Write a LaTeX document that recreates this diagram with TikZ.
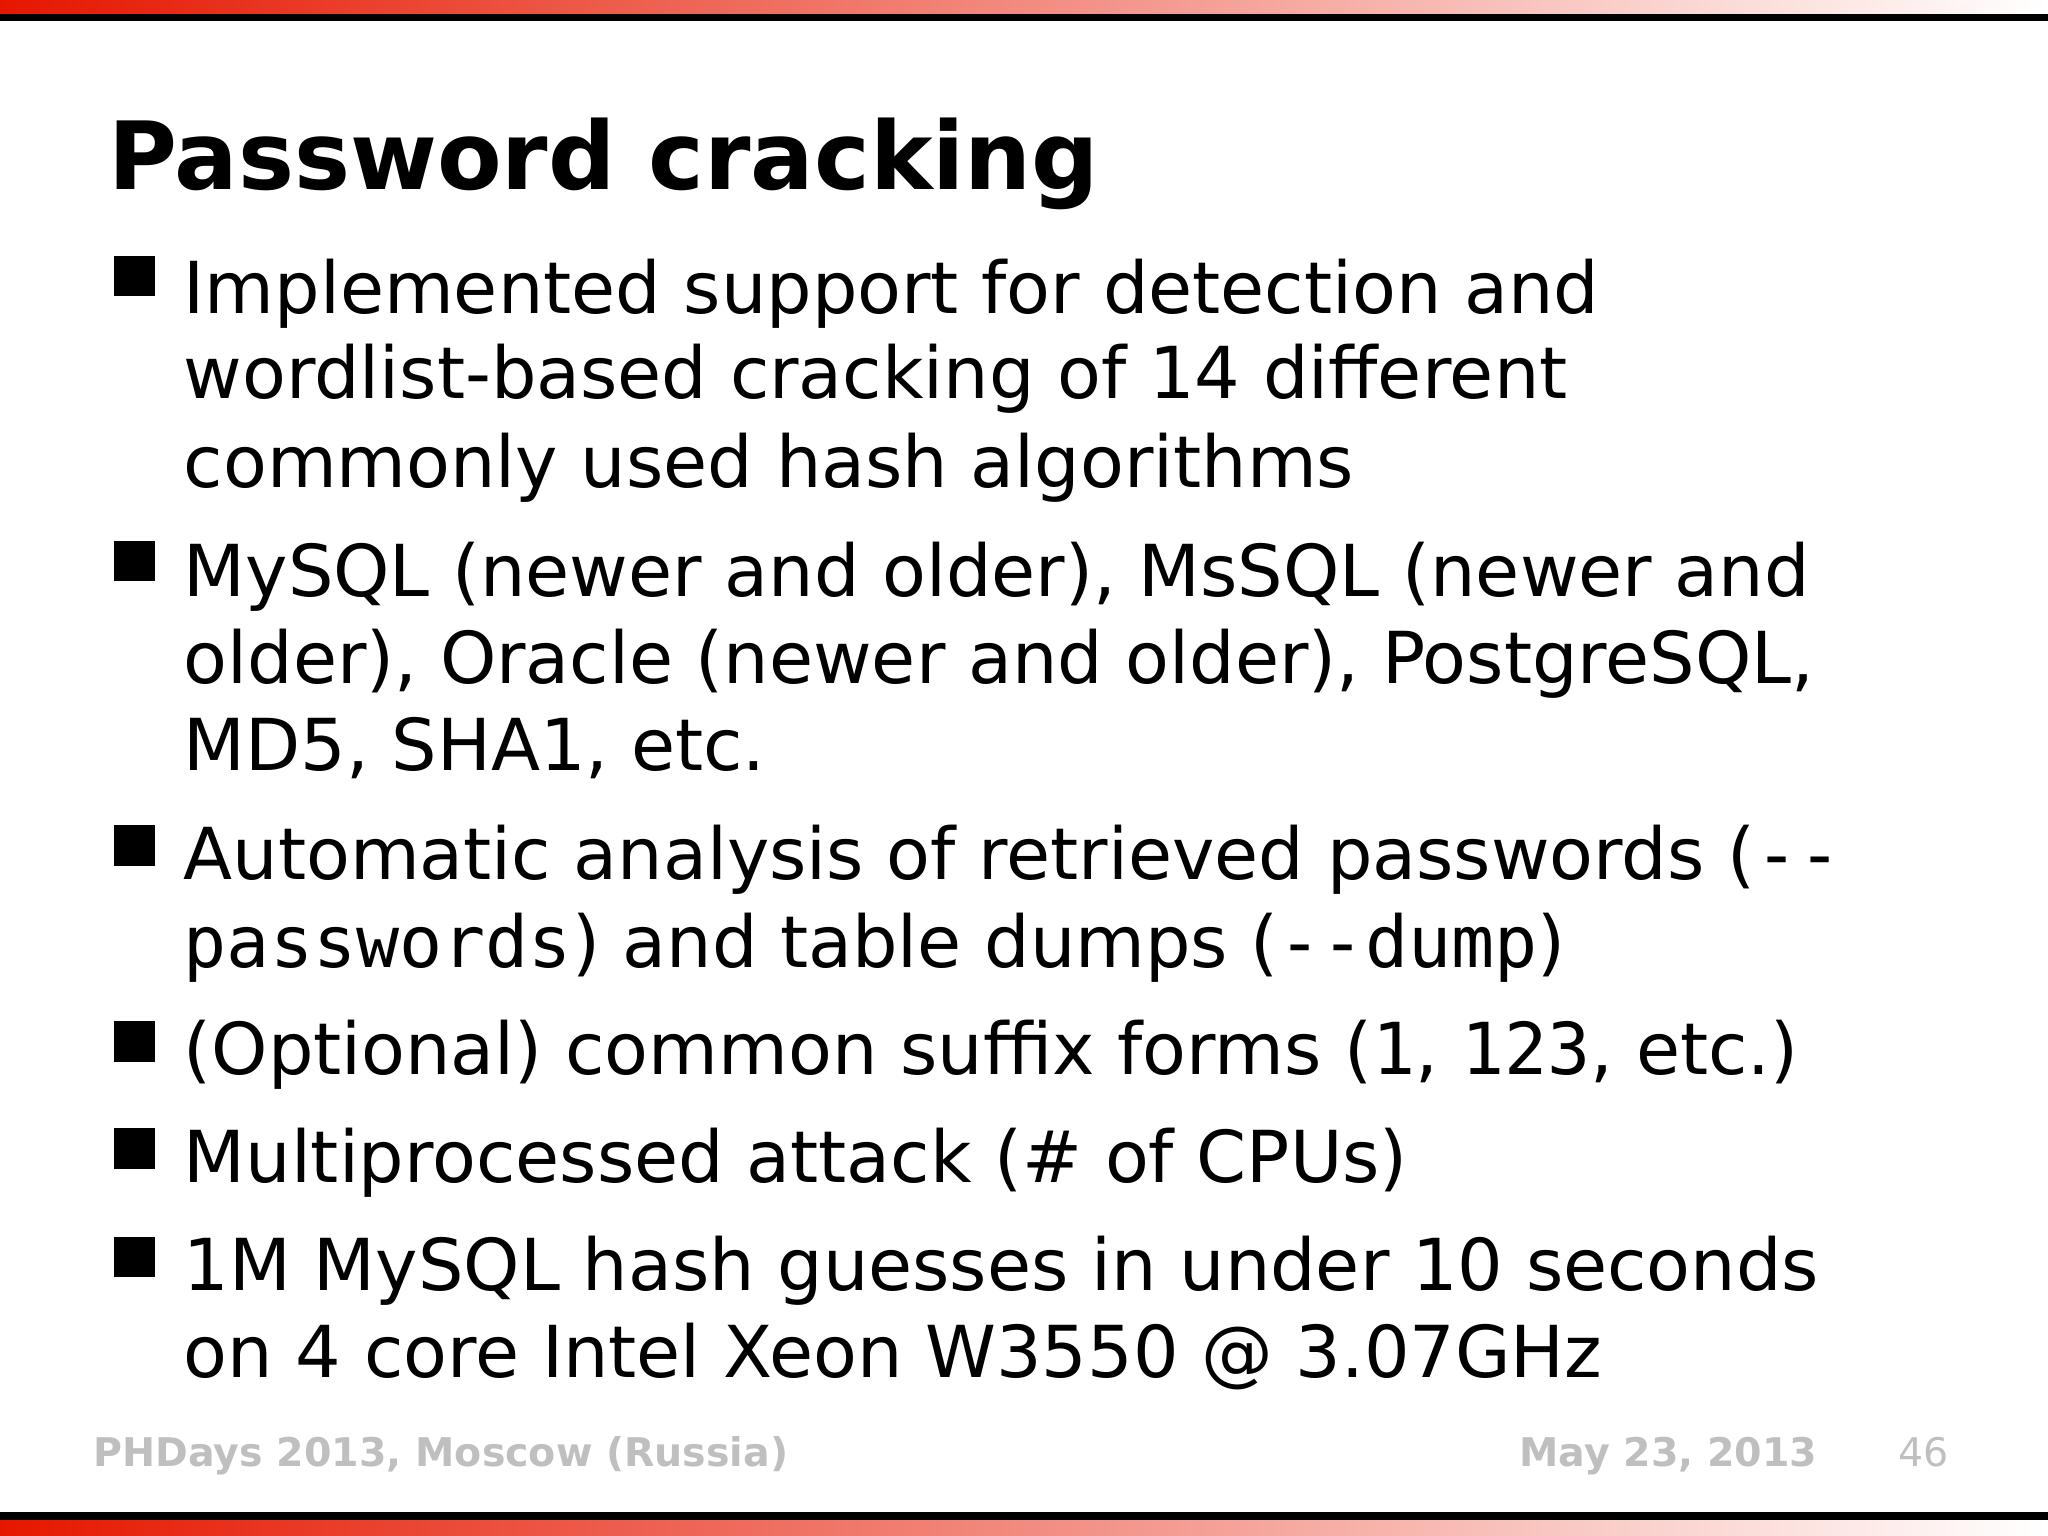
\documentclass[tikz,border=0pt]{standalone}
\usepackage{fontspec}
\setmainfont{DejaVu Sans}
\setmonofont{DejaVu Sans Mono}
\begin{document}
\begin{tikzpicture}[x=0.01cm,y=-0.01cm,
  line/.style={anchor=base west,inner sep=0pt,font=\fontsize{15.6}{18}\selectfont},
  bul/.style={fill=black},
  foot/.style={anchor=base west,inner sep=0pt,text=black!25,font=\fontsize{8.6}{10}\bfseries}]
\useasboundingbox (0,0) rectangle (1568,1176);
\shade[left color=red!80!orange!90!black, right color=white] (0,0) rectangle (1568,11);
\fill[black] (0,11) rectangle (1568,16);
\fill[black] (0,1158) rectangle (1568,1164);
\shade[left color=red!80!orange!90!black, right color=white] (0,1164) rectangle (1568,1176);
\node[anchor=base west,inner sep=0pt,font=\fontsize{20.5}{24}\bfseries\selectfont] (title) at (82,145) {Password cracking};
\foreach \y in {196,414,632,782,864,947} \fill[bul] (87,\y) rectangle (119,\y+31);
\node[line] (l1) at (140,240) {Implemented support for detection and};
\node[line] (l2) at (140,305) {wordlist-based cracking of 14 different};
\node[line] (l3) at (140,373) {commonly used hash algorithms};
\node[line] (l4) at (140,457) {MySQL (newer and older), MsSQL (newer and};
\node[line] (l5) at (140,523) {older), Oracle (newer and older), PostgreSQL,};
\node[line] (l6) at (140,590) {MD5, SHA1, etc.};
\node[line] (l7) at (140,673) {Automatic analysis of retrieved passwords (\texttt{-{}-}};
\node[line] (l8) at (140,741) {\texttt{passwords}) and table dumps (\texttt{-{}-dump})};
\node[line] (l9) at (140,823) {(Optional) common suffix forms (\texttt{1}, \texttt{123}, etc.)};
\node[line] (l10) at (140,905) {Multiprocessed attack (\# of CPUs)};
\node[line] (l11) at (140,988) {1M MySQL hash guesses in under 10 seconds};
\node[line] (l12) at (140,1055) {on 4 core Intel Xeon W3550 @ 3.07GHz};
\node[foot] (f1) at (71,1123) {PHDays 2013, Moscow (Russia)};
\node[foot,anchor=base east] (f2) at (1392,1123) {May 23, 2013};
\node[foot,anchor=base east,font=\fontsize{8.6}{10}\selectfont] (f3) at (1493,1123) {46};
\end{tikzpicture}
\end{document}
